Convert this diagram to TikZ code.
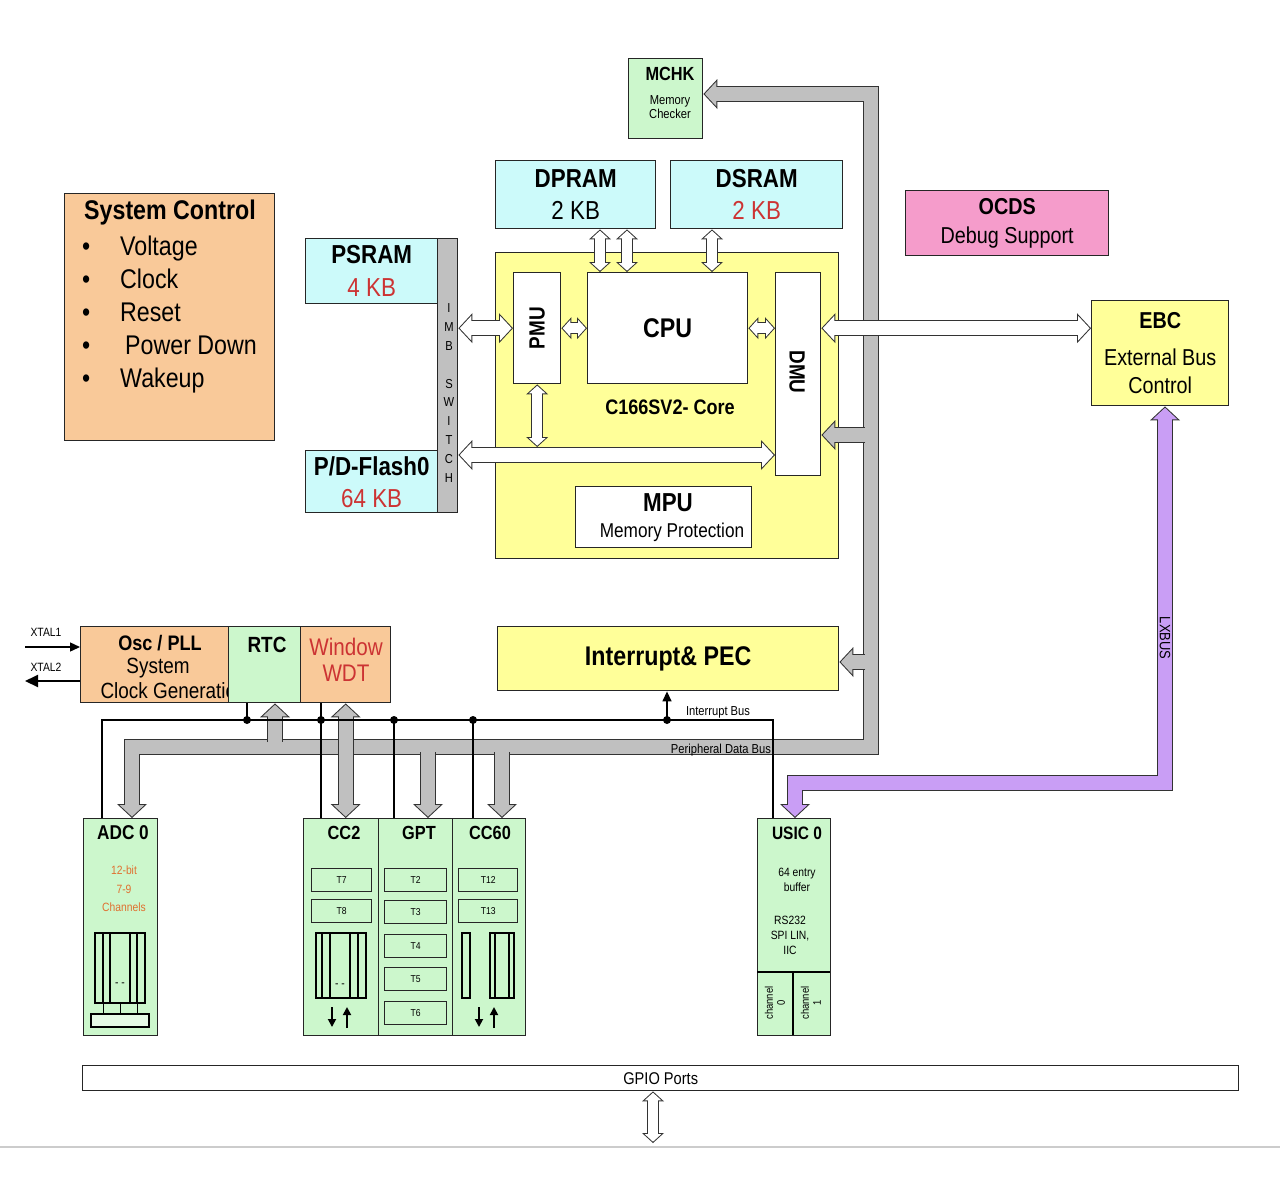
\documentclass[tikz,border=0pt]{standalone}
\usepackage{fontspec}
\setmainfont{Liberation Sans}[FakeStretch=0.86]
\usetikzlibrary{arrows.meta}

\definecolor{sysorange}{HTML}{F9C999}
\definecolor{memcyan}{HTML}{CCFAFA}
\definecolor{perigreen}{HTML}{CCF7CC}
\definecolor{coreyellow}{HTML}{FFFF99}
\definecolor{ocdspink}{HTML}{F59CCB}
\definecolor{lxpurple}{HTML}{C99EF5}
\definecolor{busgray}{HTML}{C0C0C0}
\definecolor{kbred}{HTML}{CC3333}
\definecolor{adcorange}{HTML}{E07030}

\newcommand{\fsz}[2]{\fontsize{#1bp}{#2bp}\selectfont}

\tikzset{
  blk/.style={draw=black!85, line width=1.4bp, inner sep=0pt, anchor=north west, align=center},
  tmr/.style={blk, minimum height=23bp, font=\fsz{10}{12}},
  wideo/.tip={Triangle[length=14bp,width=30bp,line width=0pt]},
  widei/.tip={Triangle[length=11.6bp,width=24.9bp,line width=0pt]},
  thino/.tip={Triangle[length=10bp,width=22bp,line width=0pt]},
  thini/.tip={Triangle[length=7.6bp,width=16.8bp,line width=0pt]},
  fatw/.style={draw=black!80, line width=16bp, line join=miter, -wideo,
    postaction={draw=#1, line width=14bp, shorten >=1.4bp, -widei}},
  fatw/.default=busgray,
  fatw2/.style={draw=black!80, line width=16bp, line join=miter, wideo-wideo,
    postaction={draw=#1, line width=14bp, shorten >=1.4bp, shorten <=1.4bp, widei-widei}},
  fatw2/.default=white,
  fatn2/.style={draw=black!80, line width=12bp, line join=miter, thino-thino,
    postaction={draw=#1, line width=10bp, shorten >=1.35bp, shorten <=1.35bp, thini-thini}},
  fatn2/.default=white,
  wire/.style={line width=1.4bp},
  dot/.style={circle, fill, inner sep=0pt, minimum size=8bp},
  wtip/.style={-{Triangle[length=10bp,width=9bp]}},
}

\begin{document}
\begin{tikzpicture}[x=1bp, y=-1bp, font=\fsz{22}{26}]
\useasboundingbox (0,0) rectangle (1280,1190);
\fill[white] (0,0) rectangle (1280,1190);

% system control
\node[blk, fill=sysorange, minimum width=210bp, minimum height=247bp] (sysctl) at (64,193) {};
\node (sysT) at (170,213) {\fsz{27}{30}\textbf{System Control}};
\node[anchor=north west, align=left, inner sep=0pt, font=\fsz{27}{33}] (sysL) at (82,236) {%
  \makebox[38bp][l]{\textbullet}Voltage\\
  \makebox[38bp][l]{\textbullet}Clock\\
  \makebox[38bp][l]{\textbullet}Reset\\
  \makebox[43bp][l]{\textbullet}Power Down\\
  \makebox[38bp][l]{\textbullet}Wakeup};

% memories and debug
\node[blk, fill=perigreen, minimum width=74bp, minimum height=80bp] (mchk) at (628,58) {};
\node (mchkT) at (670,74) {\fsz{19}{22}\textbf{MCHK}};
\node[align=center, font=\fsz{13}{14}] (mchkD) at (670,107) {Memory\\Checker};
\node[blk, fill=memcyan, minimum width=160bp, minimum height=68bp, font=\fsz{26}{32}] (dpram) at (495,160) {\textbf{DPRAM}\\2 KB};
\node[blk, fill=memcyan, minimum width=172bp, minimum height=68bp, font=\fsz{26}{32}] (dsram) at (670,160) {\textbf{DSRAM}\\\textcolor{kbred}{2 KB}};
\node[blk, fill=ocdspink, minimum width=203bp, minimum height=65bp, font=\fsz{23}{29}] (ocds) at (905,190) {\textbf{OCDS}\\Debug Support};
\node[blk, fill=memcyan, minimum width=132bp, minimum height=65bp, font=\fsz{26}{33}] (psram) at (305,238) {\textbf{PSRAM}\\\textcolor{kbred}{4 KB}};
\node[blk, fill=memcyan, minimum width=132bp, minimum height=62bp, font=\fsz{26}{32}] (flash) at (305,450) {\textbf{P/D-Flash0}\\\textcolor{kbred}{64 KB}};
\node[blk, fill=busgray, minimum width=20bp, minimum height=274bp] (imb) at (437,238) {};
\node[align=center, inner sep=0pt, font=\fsz{13}{18.9}] (imbT) at (449,393) {I\\M\\B\\[19bp]S\\W\\I\\T\\C\\H};

% core
\node[blk, fill=coreyellow, minimum width=343bp, minimum height=306bp] (core) at (495,252) {};
\node (coreT) at (670,407) {\fsz{21}{24}\textbf{C166SV2- Core}};
\node[blk, fill=white, minimum width=47bp, minimum height=111bp] (pmu) at (513,272) {};
\node[rotate=90] (pmuT) at (pmu.center) {\fsz{22}{24}\textbf{PMU}};
\node[blk, fill=white, minimum width=160bp, minimum height=111bp, font=\fsz{27}{30}] (cpu) at (587,272) {\textbf{CPU}};
\node[blk, fill=white, minimum width=45bp, minimum height=203bp] (dmu) at (775,272) {};
\node[rotate=-90] (dmuT) at (797,372) {\fsz{22}{24}\textbf{DMU}};
\node[blk, fill=white, minimum width=176bp, minimum height=61bp] (mpu) at (575,486) {};
\node (mpuT) at (668,503) {\fsz{26}{28}\textbf{MPU}};
\node (mpuD) at (672,532) {\fsz{20}{22}Memory Protection};
\node[blk, fill=coreyellow, minimum width=341bp, minimum height=64bp, font=\fsz{27}{30}] (intr) at (497,626) {\textbf{Interrupt\& PEC}};
\node[blk, fill=coreyellow, minimum width=137bp, minimum height=105bp, font=\fsz{23}{28}] (ebc) at (1091,300) {\textbf{EBC}\\[9bp]External Bus\\Control};

% clock row
\node[blk, fill=sysorange, minimum width=148bp, minimum height=76bp] (osc) at (80,626) {};
\node (oscT) at (160,643) {\fsz{21}{24}\textbf{Osc / PLL}};
\node (oscS) at (158,668) {\fsz{22}{24}System};
\node[anchor=west] (oscC) at (97,691) {\fsz{22}{24}Clock Generation};
\node[blk, fill=perigreen, minimum width=72bp, minimum height=76bp] (rtc) at (228,626) {};
\node (rtcT) at (267,645) {\fsz{22}{24}\textbf{RTC}};
\node[blk, fill=sysorange, minimum width=90bp, minimum height=76bp] (wdt) at (300,626) {};
\node[align=center, text=kbred, font=\fsz{24}{26}] (wdtT) at (346,660) {Window\\WDT};

% peripherals
\node[blk, fill=perigreen, minimum width=74bp, minimum height=217bp] (adc0) at (83,818) {};
\node[blk, fill=perigreen, minimum width=75bp, minimum height=217bp] (cc2) at (303,818) {};
\node[blk, fill=perigreen, minimum width=74bp, minimum height=217bp] (gpt) at (378,818) {};
\node[blk, fill=perigreen, minimum width=73bp, minimum height=217bp] (cc60) at (452,818) {};
\node[blk, fill=perigreen, minimum width=73bp, minimum height=217bp] (usic) at (757,818) {};
\node[blk, fill=white, minimum width=1156bp, minimum height=25bp, font=\fsz{17}{20}] (gpio) at (82,1065) {GPIO Ports};

% ADC 0
\node (adcT) at (123,833) {\fsz{20}{22}\textbf{ADC 0}};
\node[align=center, text=adcorange, font=\fsz{12}{18.5}] (adcD) at (124,889) {12-bit\\7-9\\Channels};
\draw[line width=1.2bp] (95,933) rectangle (145,1003);
\draw[line width=1.2bp] (103,933) -- (103,1003);
\draw[line width=1.2bp] (110,933) -- (110,1003);
\draw[line width=1.2bp] (130,933) -- (130,1003);
\draw[line width=1.2bp] (137,933) -- (137,1003);
\node (adcM) at (120,985) {\fsz{12}{12}- -};
\draw (103,1003) -- (103,1014);
\draw (120,1003) -- (120,1014);
\draw (137,1003) -- (137,1014);
\filldraw[fill=perigreen!50!white, line width=1.2bp] (91,1014) rectangle (149,1027);

% CC2
\node (cc2T) at (344,833) {\fsz{19}{22}\textbf{CC2}};
\node[tmr, minimum width=60bp] (t7) at (311,868) {T7};
\node[tmr, minimum width=60bp] (t8) at (311,899) {T8};
\draw[line width=1.2bp] (316,933) rectangle (366,998);
\draw[line width=1.2bp] (322,933) -- (322,998);
\draw[line width=1.2bp] (330,933) -- (330,998);
\draw[line width=1.2bp] (350,933) -- (350,998);
\draw[line width=1.2bp] (358,933) -- (358,998);
\node (cc2M) at (340,986) {\fsz{12}{12}- -};
\draw[line width=1.8bp, -{Triangle[length=8bp,width=8bp]}] (332,1007) -- (332,1027);
\draw[line width=1.8bp, -{Triangle[length=8bp,width=8bp]}] (347,1028) -- (347,1007);

% GPT
\node (gptT) at (419,833) {\fsz{19}{22}\textbf{GPT}};
\node[tmr, minimum width=62bp] (t2) at (384,868) {T2};
\node[tmr, minimum width=62bp] (t3) at (384,900) {T3};
\node[tmr, minimum width=62bp] (t4) at (384,934) {T4};
\node[tmr, minimum width=62bp] (t5) at (384,967) {T5};
\node[tmr, minimum width=62bp] (t6) at (384,1001) {T6};

% CC60
\node (cc60T) at (490,833) {\fsz{19}{22}\textbf{CC60}};
\node[tmr, minimum width=59bp] (t12) at (458,868) {T12};
\node[tmr, minimum width=59bp] (t13) at (458,899) {T13};
\draw[line width=1.2bp] (462,933) rectangle (470,998);
\draw[line width=1.2bp] (490,933) rectangle (514,998);
\draw[line width=1.2bp] (495,933) -- (495,998);
\draw[line width=1.2bp] (509,933) -- (509,998);
\draw[line width=1.8bp, -{Triangle[length=8bp,width=8bp]}] (479,1007) -- (479,1027);
\draw[line width=1.8bp, -{Triangle[length=8bp,width=8bp]}] (494,1028) -- (494,1007);

% USIC 0
\node (usicT) at (797,833) {\fsz{18}{20}\textbf{USIC 0}};
\node[align=center, font=\fsz{12}{15}] (usicB) at (797,880) {64 entry\\buffer};
\node[align=center, font=\fsz{12}{15}] (usicP) at (790,935) {RS232\\SPI LIN,\\IIC};
\draw[line width=1.4bp] (757,972) -- (830,972);
\draw[line width=1.4bp] (793,972) -- (793,1035);
\node[rotate=90, align=center, font=\fsz{11}{12}] (ch0) at (775,1003) {channel\\0};
\node[rotate=90, align=center, font=\fsz{11}{12}] (ch1) at (811,1003) {channel\\1};

% peripheral data bus
\coordinate (pdbL) at (132,747);
\coordinate (pdbR) at (871,747);
\coordinate (pdbT) at (871,94);
\draw[fatw2=busgray] (adc0.north -| pdbL) -- (pdbL) -- (pdbR) -- (pdbT) -- (pdbT -| mchk.east);
\coordinate (tapD) at (865,435);
\draw[fatw] (tapD) -- (tapD -| dmu.east);
\coordinate (tapI) at (865,662);
\draw[fatw] (tapI) -- (tapI -| intr.east);
\coordinate (tapR) at (275,742);
\draw[fatw] (tapR) -- (tapR |- rtc.south);
\coordinate (tapG) at (428,752);
\draw[fatw] (tapG) -- (tapG |- gpt.north);
\coordinate (tapC) at (502,752);
\draw[fatw] (tapC) -- (tapC |- cc60.north);
\draw[fatw2=busgray] (wdt.south) -- (wdt.south |- cc2.north);
\node (pdbLbl) at (721,750) {\fsz{13}{15}Peripheral Data Bus};

% core connections
\coordinate (dp1) at (600,0);
\coordinate (dp2) at (627,0);
\coordinate (ds1) at (712,0);
\coordinate (flb) at (0,455);
\coordinate (flbT) at (0,447);
\draw[fatn2] (dpram.south -| dp1) -- (cpu.north -| dp1);
\draw[fatn2] (dpram.south -| dp2) -- (cpu.north -| dp2);
\draw[fatn2] (dsram.south -| ds1) -- (cpu.north -| ds1);
\draw[fatw2] (pmu.west -| imb.east) -- (pmu.west);
\draw[fatn2] (pmu.east) -- (pmu.east -| cpu.west);
\draw[fatn2] (cpu.east) -- (cpu.east -| dmu.west);
\draw[fatw2] (cpu.east -| dmu.east) -- (cpu.east -| ebc.west);
\draw[fatw2] (flb -| imb.east) -- (flb -| dmu.west);
\draw[fatn2] (pmu.south) -- (pmu.south |- flbT);

% LXBUS
\coordinate (lxR) at (1165,783);
\coordinate (lxL) at (795,783);
\draw[fatw2=lxpurple] (ebc.south -| lxR) -- (lxR) -- (lxL) -- (lxL |- usic.north);
\node[rotate=-90] (lxT) at (1165,638) {\fsz{15}{17}LXBUS};

% interrupt bus
\coordinate (ibL) at (102,720);
\coordinate (ibR) at (773,720);
\draw[wire] (adc0.north -| ibL) -- (ibL) -- (ibR) -- (ibR |- usic.north);
\node[dot] (d1) at (247,720) {};
\node[dot] (d2) at (321,720) {};
\node[dot] (d3) at (394,720) {};
\node[dot] (d4) at (473,720) {};
\node[dot] (d5) at (667,720) {};
\draw[wire] (d1.center) -- (d1 |- rtc.south);
\draw[wire] (d2 |- wdt.south) -- (d2 |- cc2.north);
\draw[wire] (d3.center) -- (d3 |- gpt.north);
\draw[wire] (d4.center) -- (d4 |- cc60.north);
\draw[wire, wtip] (d5.center) -- (d5 |- intr.south);
\node (ibLbl) at (718,712) {\fsz{13}{15}Interrupt Bus};

% oscillator pins
\coordinate (xt1) at (25,647);
\coordinate (xt2) at (25,681);
\draw[wire, wtip] (xt1) -- (xt1 -| osc.west);
\draw[wire, line width=2bp, -{Triangle[length=13bp,width=12bp]}] (xt2 -| osc.west) -- (xt2);
\node (xt1T) at (46,632) {\fsz{12}{14}XTAL1};
\node (xt2T) at (46,667) {\fsz{12}{14}XTAL2};

% GPIO
\coordinate (pins) at (653,1143);
\draw[fatn2] (gpio.south -| pins) -- (pins);
\draw[line width=1.5bp, black!20] (0,1147) -- (1280,1147);

\end{tikzpicture}
\end{document}
